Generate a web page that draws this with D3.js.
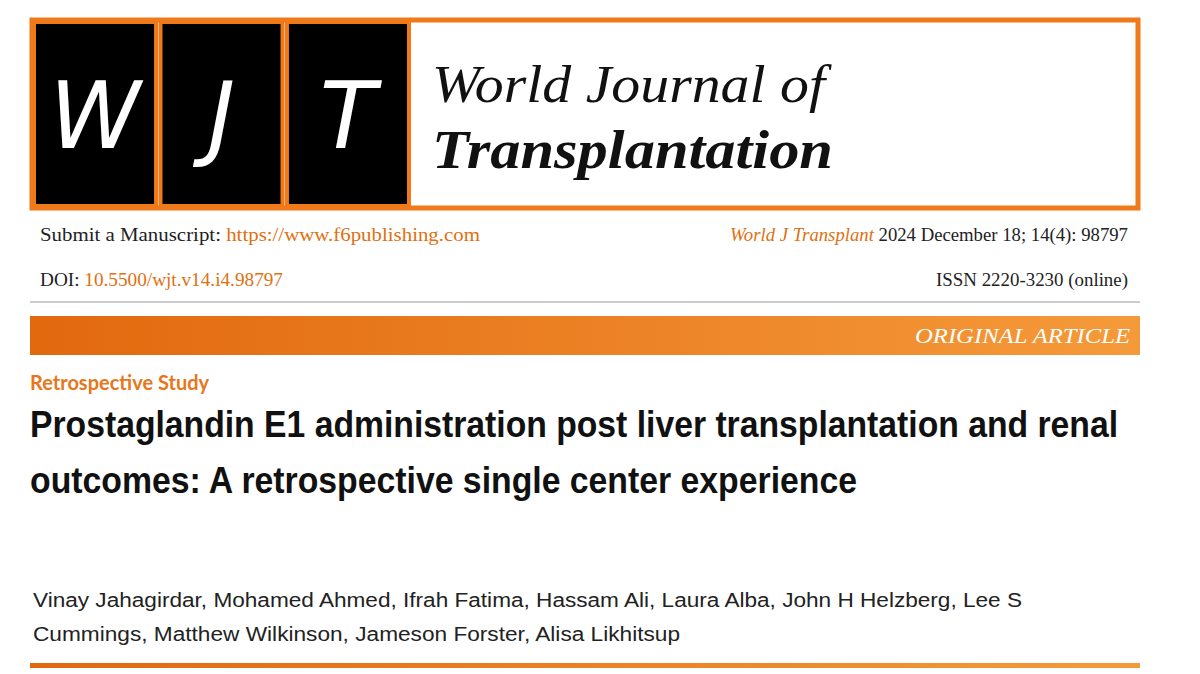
<!DOCTYPE html><html><head><meta charset="utf-8">
<script src="https://cdn.jsdelivr.net/npm/d3@7"></script>
<style>body{margin:0;background:#fff}</style></head><body>
<script>
const logoLetters = ["W","J","T"];
const journalLines = ["World Journal of","Transplantation"];
const metaLeft = [["Submit a Manuscript: ","https://www.f6publishing.com"],["DOI: ","10.5500/wjt.v14.i4.98797"]];
const metaRight = [["World J Transplant"," 2024 December 18; 14(4): 98797"],["","ISSN 2220-3230 (online)"]];
const banner = "ORIGINAL ARTICLE";
const studyType = "Retrospective Study";
const titleLines = ["Prostaglandin E1 administration post liver transplantation and renal","outcomes: A retrospective single center experience"];
const authorLines = ["Vinay Jahagirdar, Mohamed Ahmed, Ifrah Fatima, Hassam Ali, Laura Alba, John H Helzberg, Lee S","Cummings, Matthew Wilkinson, Jameson Forster, Alisa Likhitsup"];
const OR="#f07a1a";
const svg=d3.select("body").append("svg").attr("width",1200).attr("height",674);
const defs=svg.append("defs");
const g=defs.append("linearGradient").attr("id","gr");
g.append("stop").attr("offset","0").attr("stop-color","#e2680e");
g.append("stop").attr("offset","1").attr("stop-color","#f59a3a");
function fit(sel,w){sel.each(function(){const b=this.getComputedTextLength();if(b>0){const s=w/b;d3.select(this).attr("textLength",w).attr("lengthAdjust","spacingAndGlyphs");}});}
svg.append("rect").attr("x",32).attr("y",20).attr("width",1106).attr("height",188).attr("fill","#fff").attr("stroke",OR).attr("stroke-width",5);
const xs=d3.scaleBand().domain(logoLetters).range([34,409]).paddingInner(0.035);
const lg=svg.selectAll("g.l").data(logoLetters).join("g");
lg.append("rect").attr("x",d=>xs(d)).attr("y",22).attr("width",xs.bandwidth()).attr("height",184).attr("fill","#000").attr("stroke",OR).attr("stroke-width",4);
lg.append("text").attr("x",d=>xs(d)+xs.bandwidth()/2).attr("y",148).attr("text-anchor","middle").attr("fill","#fff").attr("font-family","DejaVu Sans").attr("font-style","italic").attr("font-size",92).attr("font-weight",200).text(d=>d);
const jt=svg.selectAll("text.j").data(journalLines).join("text").attr("x",432).attr("y",(d,i)=>102+i*66).attr("font-family","Liberation Serif").attr("font-style","italic").attr("font-weight",(d,i)=>i?"bold":"normal").attr("font-size",(d,i)=>i?54:52).attr("fill","#111").text(d=>d);
jt.each(function(d,i){fit(d3.select(this),i?401:393);});
metaLeft.forEach((m,i)=>{const t=svg.append("text").attr("x",40).attr("y",241+i*45).attr("font-family","Liberation Serif").attr("font-size",18).attr("fill","#222");t.append("tspan").text(m[0]);t.append("tspan").attr("fill","#e07010").text(m[1]);fit(t,i?243:440);});
metaRight.forEach((m,i)=>{const t=svg.append("text").attr("x",1128).attr("y",241+i*45).attr("text-anchor","end").attr("font-family","Liberation Serif").attr("font-size",18).attr("fill","#222");t.append("tspan").attr("fill","#e07010").attr("font-style","italic").text(m[0]);t.append("tspan").text(m[1]);fit(t,i?192:398);});
svg.append("line").attr("x1",30).attr("x2",1140).attr("y1",302).attr("y2",302).attr("stroke","#bbb").attr("stroke-width",1.5);
svg.append("rect").attr("x",30).attr("y",316).attr("width",1110).attr("height",39).attr("fill","url(#gr)");
const bt=svg.append("text").attr("x",1130).attr("y",343).attr("text-anchor","end").attr("font-family","Liberation Serif").attr("font-style","italic").attr("font-size",20).attr("fill","#fff").text(banner);
fit(bt,215);
svg.append("text").attr("x",30).attr("y",390).attr("font-family","Lato").attr("font-weight","bold").attr("font-size",20).attr("fill","#e8761a").text(studyType);
const tt=svg.selectAll("text.t").data(titleLines).join("text").attr("x",30).attr("y",(d,i)=>437+i*56).attr("font-family","Liberation Sans").attr("font-weight","bold").attr("font-size",36).attr("fill","#111").text(d=>d);
tt.each(function(d,i){fit(d3.select(this),i?827:1088);});
const at=svg.selectAll("text.a").data(authorLines).join("text").attr("x",33).attr("y",(d,i)=>607+i*34).attr("font-family","Liberation Sans").attr("font-size",20).attr("fill","#222").text(d=>d);
at.each(function(d,i){fit(d3.select(this),i?647:989);});
svg.append("rect").attr("x",30).attr("y",663).attr("width",1110).attr("height",5).attr("fill","url(#gr)");
</script></body></html>
